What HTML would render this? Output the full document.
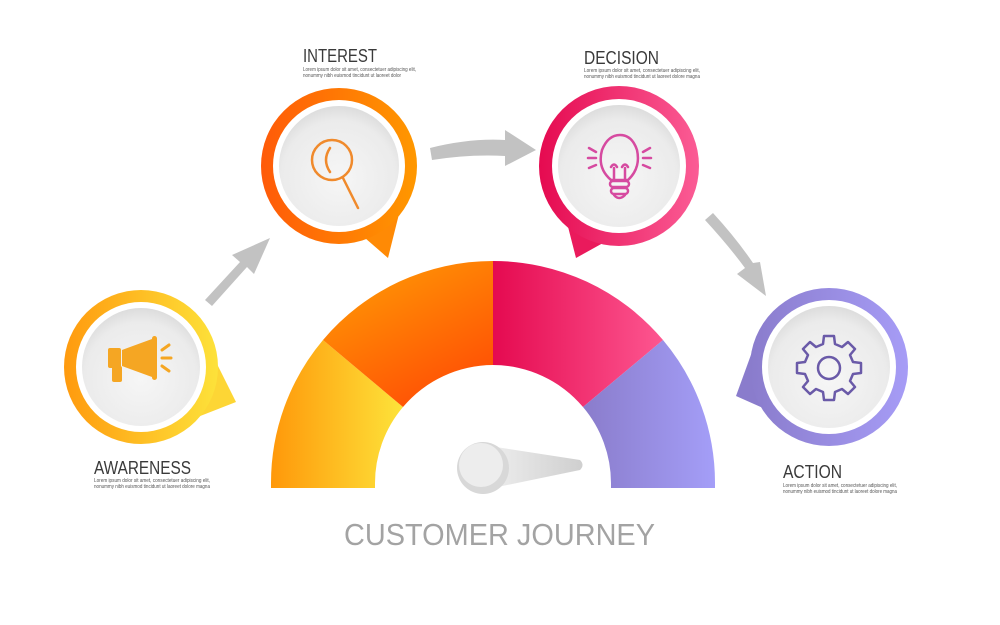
<!DOCTYPE html>
<html><head><meta charset="utf-8"><style>
html,body{margin:0;padding:0;background:#fff;}
svg{display:block;font-family:"Liberation Sans",sans-serif;}
.t{font-size:18px;fill:#3a3a3a;font-weight:normal;}
.s{font-size:5.3px;fill:#555;}
</style></head><body>
<svg width="1000" height="625" viewBox="0 0 1000 625" xmlns="http://www.w3.org/2000/svg">
<defs>
<linearGradient id="gA" x1="0" y1="0" x2="1" y2="0"><stop offset="0" stop-color="#ff9a0e"/><stop offset="1" stop-color="#fde23a"/></linearGradient>
<linearGradient id="gI" x1="0" y1="0" x2="1" y2="0"><stop offset="0" stop-color="#ff5a08"/><stop offset="1" stop-color="#ff9800"/></linearGradient>
<linearGradient id="gD" x1="0" y1="0" x2="1" y2="0"><stop offset="0" stop-color="#e50a50"/><stop offset="1" stop-color="#fb5c95"/></linearGradient>
<linearGradient id="gC" x1="0" y1="0" x2="1" y2="0"><stop offset="0" stop-color="#8a7ccc"/><stop offset="1" stop-color="#a69cf6"/></linearGradient>
<linearGradient id="s1" x1="0" y1="0" x2="1" y2="0"><stop offset="0" stop-color="#ff980a"/><stop offset="1" stop-color="#fde33a"/></linearGradient>
<linearGradient id="s2" x1="0.2" y1="0" x2="0.8" y2="1"><stop offset="0" stop-color="#ff9a05"/><stop offset="1" stop-color="#ff4a05"/></linearGradient>
<linearGradient id="s3" x1="0" y1="0" x2="1" y2="0"><stop offset="0" stop-color="#e50a50"/><stop offset="1" stop-color="#fd5690"/></linearGradient>
<linearGradient id="s4" x1="0" y1="0" x2="1" y2="0"><stop offset="0" stop-color="#8a7ccb"/><stop offset="1" stop-color="#a49ef8"/></linearGradient>
<radialGradient id="gray" cx="0.5" cy="0.6" r="0.6"><stop offset="0" stop-color="#f6f6f6"/><stop offset="0.8" stop-color="#ebebeb"/><stop offset="1" stop-color="#dcdcdc"/></radialGradient>
<linearGradient id="needle" x1="0" y1="0" x2="1" y2="0"><stop offset="0" stop-color="#f0f0f0"/><stop offset="1" stop-color="#cfcfcf"/></linearGradient>
</defs>

<!-- gauge -->
<path d="M271,488 L271,483 A222,222 0 0 1 323,340 L403,407 A118,118 0 0 0 375,483 L375,488 Z" fill="url(#s1)"/>
<path d="M323,340 A222,222 0 0 1 493,261 L493,365 A118,118 0 0 0 403,407 Z" fill="url(#s2)"/>
<path d="M493,261 A222,222 0 0 1 663,340 L583,407 A118,118 0 0 0 493,365 Z" fill="url(#s3)"/>
<path d="M663,340 A222,222 0 0 1 715,483 L715,488 L611,488 L611,483 A118,118 0 0 0 583,407 Z" fill="url(#s4)"/>

<!-- needle -->
<path d="M483,445 L580,460 Q585,465 580,470 L483,490 Z" fill="url(#needle)"/>
<circle cx="483" cy="468" r="26" fill="#d8d8d8"/>
<circle cx="481" cy="465" r="22" fill="#ededed"/>

<!-- arrows -->
<g fill="#c2c2c2" stroke="none">
<path d="M205,300 L240,262 L232,255 L270,238 L254,274 L247,267 L212,306 Z"/>
<path d="M430,148 Q470,138 505,140 L505,130 L536,150 L505,166 L505,156 Q470,154 432,160 Z"/>
<path d="M705,220 Q728,245 745,268 L737,274 L766,296 L760,262 L753,263 Q736,238 713,213 Z"/>
</g>

<!-- awareness -->
<path d="M200,330 L236,402 L190,420 Z" fill="#fdd635"/>
<circle cx="141" cy="367" r="77" fill="url(#gA)"/>
<circle cx="141" cy="367" r="65" fill="#fff"/>
<circle cx="141" cy="367" r="59" fill="url(#gray)"/>
<g fill="#f5a623">
<rect x="108" y="348" width="13" height="20" rx="2"/>
<rect x="112" y="366" width="10" height="16" rx="2"/>
<path d="M122,350 L152,339 L152,377 L122,366 Z"/>
<rect x="152" y="336" width="5" height="44" rx="2.5"/>
<g stroke="#f5a623" stroke-width="3" stroke-linecap="round"><line x1="162" y1="350" x2="169" y2="345"/><line x1="162" y1="358" x2="171" y2="358"/><line x1="162" y1="366" x2="169" y2="371"/></g>
</g>
<text x="94" y="474" class="t" textLength="97" lengthAdjust="spacingAndGlyphs">AWARENESS</text>
<text x="94" y="482" class="s" textLength="116" lengthAdjust="spacingAndGlyphs">Lorem ipsum dolor sit amet, consectetuer adipiscing elit,</text>
<text x="94" y="488" class="s" textLength="116" lengthAdjust="spacingAndGlyphs">nonummy nibh euismod tincidunt ut laoreet dolore magna</text>

<!-- interest -->
<path d="M350,225 L388,258 L400,210 Z" fill="#ff8a05"/>
<circle cx="339" cy="166" r="78" fill="url(#gI)"/>
<circle cx="339" cy="166" r="66" fill="#fff"/>
<circle cx="339" cy="166" r="60" fill="url(#gray)"/>
<g fill="none" stroke="#f08a2c" stroke-width="2.5" stroke-linecap="round">
<circle cx="332" cy="160" r="20"/>
<path d="M330,148 Q322,160 330,172"/>
<line x1="343" y1="178" x2="358" y2="208"/>
</g>
<text x="303" y="62" class="t" textLength="74" lengthAdjust="spacingAndGlyphs">INTEREST</text>
<text x="303" y="71" class="s" textLength="113" lengthAdjust="spacingAndGlyphs">Lorem ipsum dolor sit amet, consectetuer adipiscing elit,</text>
<text x="303" y="77" class="s" textLength="98" lengthAdjust="spacingAndGlyphs">nonummy nibh euismod tincidunt ut laoreet dolor</text>

<!-- decision -->
<path d="M565,215 L576,258 L612,238 Z" fill="#ea1a5c"/>
<circle cx="619" cy="166" r="80" fill="url(#gD)"/>
<circle cx="619" cy="166" r="67" fill="#fff"/>
<circle cx="619" cy="166" r="61" fill="url(#gray)"/>
<g fill="none" stroke="#d64aa0" stroke-width="2.5" stroke-linecap="round">
<path d="M611,180 Q597,168 602,150 Q608,135 620,135 Q632,135 637,150 Q641,168 628,180 Z"/>
<path d="M614,180 L614,168 M625,180 L625,168 M611,167 Q614,162 617,167 M622,167 Q625,162 628,167"/>
<rect x="610" y="181" width="19" height="6" rx="3"/>
<rect x="611" y="188" width="17" height="6" rx="3"/>
<path d="M614,195 Q619,201 625,195"/>
<line x1="589" y1="148" x2="596" y2="152"/><line x1="588" y1="158" x2="596" y2="158"/><line x1="589" y1="168" x2="596" y2="165"/>
<line x1="650" y1="148" x2="643" y2="152"/><line x1="651" y1="158" x2="643" y2="158"/><line x1="650" y1="168" x2="643" y2="165"/>
</g>
<text x="584" y="64" class="t" textLength="75" lengthAdjust="spacingAndGlyphs">DECISION</text>
<text x="584" y="72" class="s" textLength="116" lengthAdjust="spacingAndGlyphs">Lorem ipsum dolor sit amet, consectetuer adipiscing elit,</text>
<text x="584" y="78" class="s" textLength="116" lengthAdjust="spacingAndGlyphs">nonummy nibh euismod tincidunt ut laoreet dolore magna</text>

<!-- action -->
<path d="M760,330 L736,396 L790,420 Z" fill="#8a7ccc"/>
<circle cx="829" cy="367" r="79" fill="url(#gC)"/>
<circle cx="829" cy="367" r="67" fill="#fff"/>
<circle cx="829" cy="367" r="61" fill="url(#gray)"/>
<g fill="none" stroke="#6a5aa8" stroke-width="2.5" stroke-linejoin="round">
<path d="M824,336 L834,336 L835,344 L842,347 L848,342 L855,349 L850,355 L853,362 L861,363 L861,373 L853,374 L850,381 L855,387 L848,394 L842,389 L835,392 L834,400 L824,400 L823,392 L816,389 L810,394 L803,387 L808,381 L805,374 L797,373 L797,363 L805,362 L808,355 L803,349 L810,342 L816,347 L823,344 Z"/>
<circle cx="829" cy="368" r="11"/>
</g>
<text x="783" y="478" class="t" textLength="59" lengthAdjust="spacingAndGlyphs">ACTION</text>
<text x="783" y="487" class="s" textLength="114" lengthAdjust="spacingAndGlyphs">Lorem ipsum dolor sit amet, consectetuer adipiscing elit,</text>
<text x="783" y="493" class="s" textLength="114" lengthAdjust="spacingAndGlyphs">nonummy nibh euismod tincidunt ut laoreet dolore magna</text>

<text x="344" y="545" font-size="31" fill="#a3a3a3" textLength="311" lengthAdjust="spacingAndGlyphs">CUSTOMER JOURNEY</text>
</svg>
</body></html>
